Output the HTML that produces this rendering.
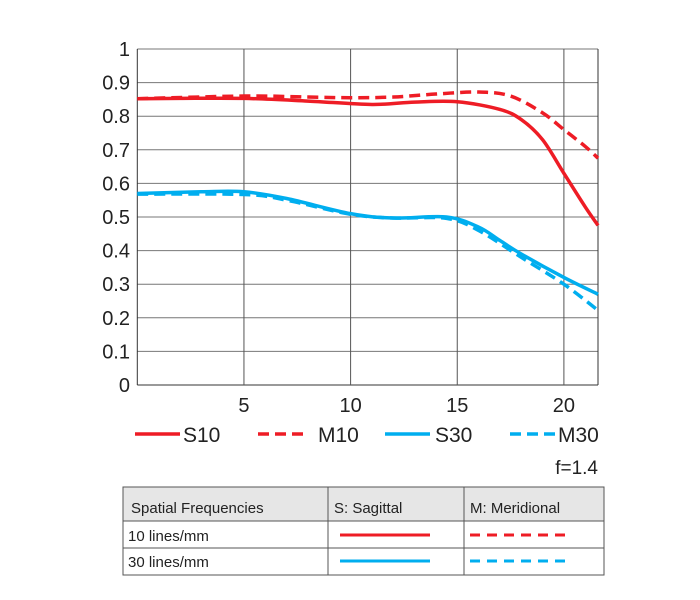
<!DOCTYPE html>
<html><head><meta charset="utf-8"><style>
body{margin:0;background:#fff;font-family:"Liberation Sans",sans-serif;}
svg text{font-family:"Liberation Sans",sans-serif;fill:#222;}
</style></head><body>
<svg id="c" width="700" height="595" viewBox="0 0 700 595" xmlns="http://www.w3.org/2000/svg">
<g id="grid"></g>
<g id="series"></g>
<g id="ticks"></g>
<g id="legend"></g>
<text x="598" y="474" font-size="19" text-anchor="end">f=1.4</text>
<g>
<rect x="123" y="487" width="481" height="34" fill="#e6e6e6" stroke="#555" stroke-width="1"/>
<rect x="123" y="487" width="481" height="88" fill="none" stroke="#555" stroke-width="1"/>
<line x1="123" y1="548" x2="604" y2="548" stroke="#555"/>
<line x1="328" y1="487" x2="328" y2="575" stroke="#555"/>
<line x1="464" y1="487" x2="464" y2="575" stroke="#555"/>
<text x="131" y="513" font-size="15">Spatial Frequencies</text>
<text x="334" y="513" font-size="15">S: Sagittal</text>
<text x="470" y="513" font-size="15">M: Meridional</text>
<text x="128" y="541" font-size="15">10 lines/mm</text>
<text x="128" y="567" font-size="15">30 lines/mm</text>
<line x1="340" y1="535" x2="430" y2="535" stroke="#ee1c25" stroke-width="3"/>
<line x1="470" y1="535" x2="566" y2="535" stroke="#ee1c25" stroke-width="3" stroke-dasharray="10,7"/>
<line x1="340" y1="561" x2="430" y2="561" stroke="#00aeef" stroke-width="3"/>
<line x1="470" y1="561" x2="566" y2="561" stroke="#00aeef" stroke-width="3" stroke-dasharray="10,7"/>
</g>
</svg>
<script>
const xTicks=[5,10,15,20];
const yTicks=[0,0.1,0.2,0.3,0.4,0.5,0.6,0.7,0.8,0.9,1];
const yTickLabels=["0","0.1","0.2","0.3","0.4","0.5","0.6","0.7","0.8","0.9","1"];
const s10X=[0,2,5,8,11,13,15,17,18,19,20,21,21.6];
const s10Y=[0.852,0.853,0.853,0.845,0.835,0.842,0.843,0.82,0.79,0.73,0.63,0.53,0.475];
const m10X=[0,5,8,10,12,14,16,17.5,19,20,21,21.6];
const m10Y=[0.852,0.86,0.857,0.855,0.857,0.866,0.872,0.86,0.81,0.76,0.71,0.675];
const s30X=[0,3,5,7,10,12,14.5,16,17,18,20,21.6];
const s30Y=[0.57,0.575,0.575,0.555,0.51,0.497,0.5,0.47,0.43,0.39,0.32,0.27];
const m30X=[0,5,7,10,12,14.5,16,18,20,21.6];
const m30Y=[0.568,0.567,0.55,0.508,0.497,0.496,0.46,0.38,0.3,0.222];
const X0=137.3,XS=21.33,Y0=385,YS=336,XR=598;
function sx(v){return X0+v*XS;}
function sy(v){return Y0-v*YS;}
const NS="http://www.w3.org/2000/svg";
function mk(t,a,p){const e=document.createElementNS(NS,t);for(const k in a)e.setAttribute(k,a[k]);p.appendChild(e);return e;}
const grid=document.getElementById('grid'),ticks=document.getElementById('ticks');
yTicks.forEach((v,i)=>{
 const l=mk('line',{x1:X0,x2:XR,y1:sy(v),y2:sy(v),stroke:i==0?'#333':'#777','stroke-width':1},grid);
 
 
 const t=mk('text',{x:130,y:sy(v)+7,'font-size':20,'text-anchor':'end'},ticks);
 t.textContent=yTickLabels[i];
 
 
});
xTicks.forEach(v=>{
 const l=mk('line',{x1:sx(v),x2:sx(v),y1:sy(1),y2:Y0,stroke:'#555','stroke-width':1},grid);
 
 
 const t=mk('text',{x:sx(v),y:412,'font-size':20,'text-anchor':'middle'},ticks);
 t.textContent=String(v);
 
 
});
const lb=mk('line',{x1:X0,x2:X0,y1:sy(1),y2:Y0,stroke:'#333'},grid);


const rb=mk('line',{x1:XR,x2:XR,y1:sy(1),y2:Y0,stroke:'#333'},grid);


function path(xs,ys){
 const p=xs.map((x,i)=>[sx(x),sy(ys[i])]);
 let d='M'+p[0][0]+','+p[0][1];
 for(let i=0;i<p.length-1;i++){
  const a=p[Math.max(0,i-1)],b=p[i],c=p[i+1],e=p[Math.min(p.length-1,i+2)];
  const c1=[b[0]+(c[0]-a[0])/6,b[1]+(c[1]-a[1])/6],c2=[c[0]-(e[0]-b[0])/6,c[1]-(e[1]-b[1])/6];
  d+=' C'+c1+' '+c2+' '+c;
 }
 return d;
}
const ser=document.getElementById('series');
const defs=[[s10X,s10Y,'#ee1c25',0,'series-s10'],[m10X,m10Y,'#ee1c25',1,'series-m10'],[s30X,s30Y,'#00aeef',0,'series-s30'],[m30X,m30Y,'#00aeef',1,'series-m30']];
defs.forEach(s=>{
 const a={d:path(s[0],s[1]),fill:'none',stroke:s[2],'stroke-width':3.5};
 if(s[3])a['stroke-dasharray']='11,6';
 const e=mk('path',a,ser);
 
 
});
const leg=document.getElementById('legend');
[[135,183,'#ee1c25',0,'S10'],[258,318,'#ee1c25',1,'M10'],[385,435,'#00aeef',0,'S30'],[510,558,'#00aeef',1,'M30']].forEach(l=>{
 const a={x1:l[0],x2:l[0]+45,y1:434,y2:434,stroke:l[2],'stroke-width':3.5};
 if(l[3])a['stroke-dasharray']='11,6';
 const ln=mk('line',a,leg);
 
 
 const t=mk('text',{x:l[1],y:442,'font-size':21},leg);
 t.textContent=l[4];
 
 
});
</script>
</body></html>
